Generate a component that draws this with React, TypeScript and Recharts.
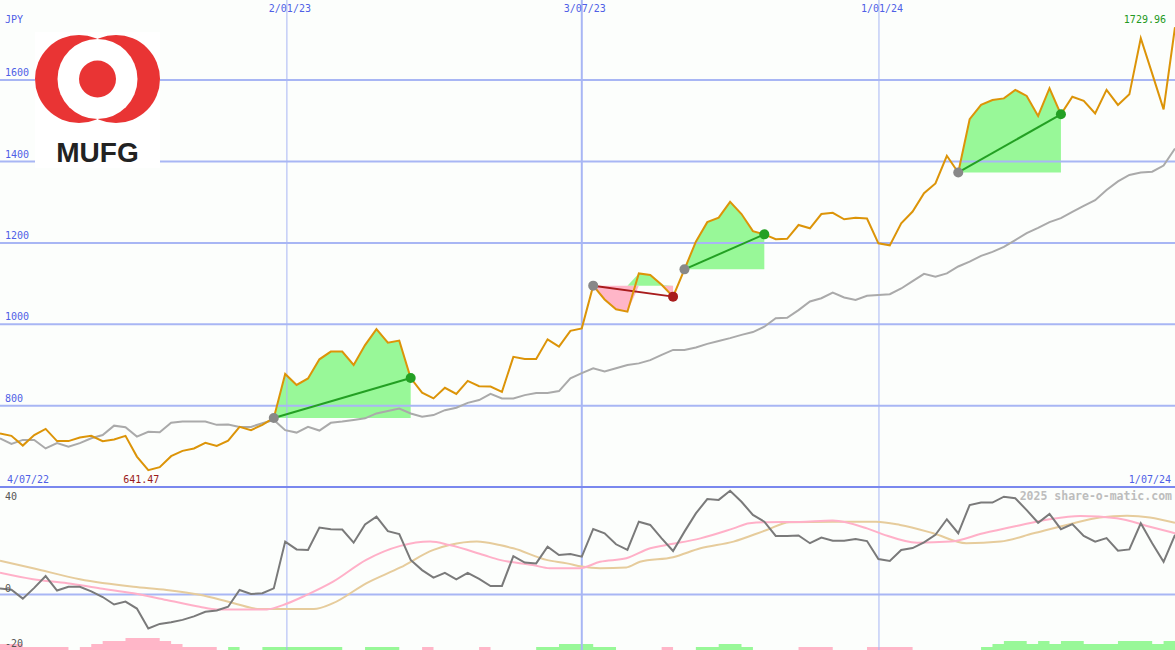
import React from 'react';
import { ComposedChart, Line, Area, XAxis, YAxis, ReferenceLine, ReferenceDot } from 'recharts';

// weekly closes, JPY (week 0 = first point on the left edge)
const prices = [
  732, 726, 702, 728, 743, 713, 713, 722, 726, 713,
  717, 726, 675, 641.47, 649, 676, 689, 695, 709, 701,
  714, 748, 740, 753, 770, 878, 851, 867, 914, 933,
  933, 900, 949, 988, 955, 960, 868, 832, 818, 844,
  829, 861, 848, 847, 834, 920, 915, 915, 963, 945,
  984, 990, 1095, 1061, 1037, 1031, 1125, 1121, 1097, 1068,
  1135, 1203, 1251, 1262, 1301, 1271, 1229, 1221, 1209, 1210,
  1244, 1236, 1271, 1274, 1258, 1262, 1260, 1199, 1194, 1248,
  1277, 1322, 1346, 1414, 1373, 1504, 1539, 1551, 1555, 1576,
  1561, 1512, 1580, 1516, 1559, 1549, 1518, 1576, 1539, 1565,
  1703, 1616, 1528, 1729.96,
];

// grey moving average
const averages = [
  720, 706, 716, 716, 695, 708, 699, 708, 720, 728,
  751, 747, 724, 736, 735, 758, 761, 761, 761, 753,
  754, 748, 748, 757, 765, 740, 734, 748, 739, 758,
  761, 765, 769, 781, 787, 793, 781, 773, 777, 789,
  795, 807, 814, 829, 818, 818, 826, 831, 831, 836,
  867, 880, 892, 884, 892, 900, 904, 912, 925, 937,
  937, 943, 952, 959, 966, 974, 981, 994, 1015, 1016,
  1035, 1056, 1064, 1078, 1066, 1060, 1070, 1072, 1074, 1088,
  1106, 1124, 1117, 1125, 1142, 1154, 1168, 1178, 1190, 1207,
  1224, 1237, 1251, 1261, 1276, 1291, 1305, 1330, 1351, 1367,
  1373, 1375, 1390, 1432,
];

// lower panel oscillator (dark grey)
const oscillator = [
  2.3, 1.8, -1.5, 2.5, 6.9, 1.5, 2.9, 2.9, 1.2, -0.9,
  -3.7, -2.6, -5.2, -12.6, -10.9, -10.3, -9.4, -8.1, -6.4, -5.9,
  -4.5, 1.7, 0.2, 0.5, 2.3, 19.7, 16.8, 16.6, 24.9, 24.3,
  24.2, 19.3, 26.1, 29, 23.6, 22.5, 12.9, 9.1, 6.3, 8.1,
  5.7, 8.1, 5.8, 3.2, 3.2, 14.3, 11.9, 11.6, 17.8, 14.7,
  15.1, 14.1, 24.4, 22.8, 18.7, 16.6, 27.1, 25.9, 20.9, 16.2,
  23.4, 30.2, 35.5, 35.2, 38.6, 34.5, 29.6, 27.1, 21.8, 21.8,
  22, 19.1, 21.2, 20, 20, 20.7, 19.9, 13.2, 12.5, 16.6,
  17.3, 19.4, 22.2, 28, 22.8, 33.3, 34.2, 34.2, 36.4, 35.8,
  31.4, 26.7, 30, 24.3, 26.2, 21.8, 19.7, 21, 16.3, 16.8,
  26.5, 19.1, 12.2, 22.2,
];

// histogram blocks at the foot (each covers the week ending at its index)
const histogram = [
  -2, -2, -2, -1, -1, -1, -1, 0, -1, -2,
  -3, -3, -4, -4, -4, -3, -2, -1, -1, -1,
  0, 1, 0, 0, 1, 1, 1, 1, 1, 1,
  1, 0, 0, 1, 1, 1, 0, 0, -1, 0,
  0, 0, 0, -1, 0, 0, 0, 0, 1, 1,
  2, 2, 2, 1, 1, 0, 0, 0, 0, -1,
  0, 0, 1, 1, 2, 2, 1, 0, 0, 0,
  0, -1, -1, -1, 0, 0, 0, -1, -1, -1,
  -1, 0, 0, 0, 0, 0, 0, 1, 2, 3,
  3, 2, 3, 2, 3, 3, 2, 2, 2, 3,
  3, 3, 2, 3,
];

// pink signal curve
const signalWeeks = [0, 2.9, 5.9, 8.8, 11.7, 14.6, 17.5, 19, 23.4, 24.8, 26.9, 29.2, 32.1, 35.1, 37.7, 39.4, 42.4, 43.8, 46.7, 48.2, 50.8, 52.6, 54.9, 57, 58.4, 61.4, 64.3, 65.7, 67.2, 70.1, 73, 76, 77.4, 80.4, 83.3, 86.2, 89.1, 92, 94.7, 97.9, 100.8, 103];
const signalValues = [8.1, 5.7, 4.2, 2.3, 0.5, -2, -4.5, -5.5, -5.5, -3.9, -0.1, 4.8, 12.9, 18.1, 19.7, 18.4, 14.7, 12.9, 11, 9.8, 9.8, 12.2, 13.5, 17.2, 18.4, 20.9, 24.6, 26.5, 26.9, 27, 27.5, 24.6, 22.4, 19.3, 19.7, 22.8, 25.5, 28, 29.2, 28.4, 25.2, 22.8];

// tan slow curve
const slowWeeks = [0, 2.9, 7, 11.7, 14.6, 17.5, 20.5, 22.8, 27.5, 29.2, 32.1, 35.1, 38, 39.4, 41.8, 43.8, 45, 47.9, 49.7, 51, 52.6, 54.9, 56.1, 59, 61.4, 64.3, 67.2, 69.2, 73, 76.8, 78.9, 81.8, 84.7, 87.7, 90.6, 93.5, 96.4, 98.8, 100.8, 103];
const slowValues = [12.6, 9.8, 5.7, 2.9, 1.7, -0.1, -3.2, -5.4, -5.4, -3.2, 4.2, 10.1, 16.6, 18.4, 19.7, 18.4, 17.2, 12.9, 11.6, 10.4, 9.8, 10.1, 12.2, 13.9, 17.2, 19.7, 24, 26.9, 27.1, 27.1, 25.9, 22.8, 19.1, 19.7, 22.8, 25.9, 28.7, 29.3, 28.7, 26.7];

const priceTicks = [800, 1000, 1200, 1400, 1600];
const oscTicks = [40, 0, -20];
const dateTicks = [0, 25.15, 51.0, 77.05, 103];
const dateLabels = ['4/07/22', '2/01/23', '3/07/23', '1/01/24', '1/07/24'];

// entry / exit weeks of the marked trades
const trades = [
  { entry: 24, exit: 36 },
  { entry: 52, exit: 59 },
  { entry: 60, exit: 67 },
  { entry: 84, exit: 93 },
];

const FONT = 'DejaVu Sans Mono, monospace';
const BLUE_TEXT = '#4f5fe6';
const GRID = '#a8b6f4';
const GAIN = '#98f898';
const LOSS = '#ffb6c8';

const rows = prices.map((price, week) => {
  const row: Record<string, any> = {
    week,
    price,
    avg: averages[week],
    osc: oscillator[week],
    histUp: Math.max(histogram[week], 0),
    histDown: Math.max(-histogram[week], 0),
  };
  trades.forEach((t, k) => {
    const base = prices[t.entry];
    const inside = week >= t.entry && week <= t.exit;
    row[`gain${k}`] = inside ? [base, Math.max(price, base)] : null;
    row[`loss${k}`] = inside ? [Math.min(price, base), base] : null;
  });
  return row;
});

const signalPoints = signalWeeks.map((week, i) => ({ week, v: signalValues[i] }));
const slowPoints = slowWeeks.map((week, i) => ({ week, v: slowValues[i] }));

const lowIdx = prices.indexOf(Math.min(...prices));
const highIdx = prices.indexOf(Math.max(...prices));

const txt = (x: number, y: number, s: string | number, fill: string, anchor = 'start') => (
  <text x={x} y={y} textAnchor={anchor} fill={fill} fontSize={10} fontFamily={FONT}>
    {s}
  </text>
);

const oscOffset = (v: number) => (v === 40 ? 13 : v === 0 ? -3 : -1);

const Overlay = () => (
  <svg width={1175} height={650} style={{ position: 'absolute', left: 0, top: 0, pointerEvents: 'none' }}>
    <rect x={35} y={32} width={125} height={136} fill="#ffffff" />
    <circle cx={79} cy={79} r={44} fill="#e93434" />
    <circle cx={116} cy={79} r={44} fill="#e93434" />
    <circle cx={97.5} cy={79} r={40} fill="#ffffff" />
    <circle cx={97.5} cy={79} r={18.5} fill="#e93434" />
    <text x={97.5} y={162} textAnchor="middle" fontFamily="Liberation Sans, Arial, sans-serif" fontWeight="bold" fontSize={28} fill="#222">
      MUFG
    </text>
    <text x={5} y={23} fill={BLUE_TEXT} fontSize={10} fontFamily={FONT}>JPY</text>
    <text x={1172} y={500} textAnchor="end" fill="#bdbdbd" fontSize={11.5} fontWeight="bold" fontFamily={FONT}>
      2025 share-o-matic.com
    </text>
  </svg>
);

export default function App() {
  return (
    <div style={{ position: 'absolute', left: 0, top: 0, width: 1175, height: 650, background: '#fcfefc', overflow: 'hidden' }}>
      <ComposedChart width={1175} height={650} data={rows} margin={{ top: 0, right: 0, bottom: 0, left: 0 }}>
        <XAxis type="number" dataKey="week" domain={[0, 103]} hide allowDataOverflow />
        <YAxis yAxisId="price" type="number" domain={[199.8, 1796.8]} hide allowDataOverflow />
        <YAxis yAxisId="osc" type="number" domain={[-20.6, 221.04]} hide allowDataOverflow />
        <YAxis yAxisId="hist" type="number" domain={[0, 216.67]} hide allowDataOverflow />

        {dateTicks.slice(1, -1).map((w, i) => (
          <ReferenceLine
            key={`v${w}`}
            x={w}
            yAxisId="price"
            stroke={GRID}
            strokeWidth={dateLabels[i + 1].includes('/07/') ? 2 : 1}
            label={(p: any) => txt(p.viewBox.x + 3, 12, dateLabels[i + 1], BLUE_TEXT, 'middle')}
          />
        ))}
        {priceTicks.map((v) => (
          <ReferenceLine
            key={`h${v}`}
            y={v}
            yAxisId="price"
            stroke={GRID}
            strokeWidth={2}
            label={(p: any) => txt(5, p.viewBox.y - 4, v, BLUE_TEXT)}
          />
        ))}
        <ReferenceLine y={0} yAxisId="osc" stroke={GRID} strokeWidth={2} />
        <ReferenceLine y={40} yAxisId="osc" stroke="#7a88ee" strokeWidth={2} />

        <Area yAxisId="hist" type="stepBefore" dataKey="histDown" fill={LOSS} fillOpacity={1} stroke="none" dot={false} activeDot={false} isAnimationActive={false} />
        <Area yAxisId="hist" type="stepBefore" dataKey="histUp" fill={GAIN} fillOpacity={1} stroke="none" dot={false} activeDot={false} isAnimationActive={false} />

        {trades.map((t, k) => (
          <Area key={`g${k}`} yAxisId="price" type="linear" dataKey={`gain${k}`} fill={GAIN} fillOpacity={1} stroke="none" dot={false} activeDot={false} isAnimationActive={false} />
        ))}
        {trades.map((t, k) => (
          <Area key={`l${k}`} yAxisId="price" type="linear" dataKey={`loss${k}`} fill={LOSS} fillOpacity={1} stroke="none" dot={false} activeDot={false} isAnimationActive={false} />
        ))}

        <Line data={slowPoints} yAxisId="osc" type="monotone" dataKey="v" stroke="#e6cc9c" strokeWidth={2} dot={false} activeDot={false} isAnimationActive={false} />
        <Line data={signalPoints} yAxisId="osc" type="monotone" dataKey="v" stroke="#ffb0c8" strokeWidth={2} dot={false} activeDot={false} isAnimationActive={false} />
        <Line yAxisId="osc" type="linear" dataKey="osc" stroke="#7a7a7a" strokeWidth={2} dot={false} activeDot={false} isAnimationActive={false} />

        <Line yAxisId="price" type="linear" dataKey="avg" stroke="#aaaaaa" strokeWidth={2} dot={false} activeDot={false} isAnimationActive={false} />

        {trades.map((t, k) => {
          const win = prices[t.exit] >= prices[t.entry];
          return (
            <ReferenceLine
              key={`t${k}`}
              yAxisId="price"
              segment={[{ x: t.entry, y: prices[t.entry] }, { x: t.exit, y: prices[t.exit] }]}
              stroke={win ? '#23a023' : '#a81c1c'}
              strokeWidth={2}
            />
          );
        })}
        {trades.map((t, k) => (
          <ReferenceDot key={`e${k}`} yAxisId="price" x={t.entry} y={prices[t.entry]} r={5} fill="#888888" stroke="none" />
        ))}

        <Line yAxisId="price" type="linear" dataKey="price" stroke="#dc9408" strokeWidth={2} dot={false} activeDot={false} isAnimationActive={false} />

        {trades.map((t, k) => {
          const win = prices[t.exit] >= prices[t.entry];
          return (
            <ReferenceDot key={`x${k}`} yAxisId="price" x={t.exit} y={prices[t.exit]} r={5} fill={win ? '#23a023' : '#a81c1c'} stroke="none" />
          );
        })}

        {/* lower panel scale labels */}
        {oscTicks.map((v) => (
          <ReferenceDot
            key={`o${v}`}
            yAxisId="osc"
            x={0}
            y={v}
            r={1}
            fill="none"
            stroke="none"
            label={(p: any) => txt(5, p.viewBox.y + 1 + oscOffset(v), v, '#555555')}
          />
        ))}

        {/* first / last date at the foot of the price panel */}
        <ReferenceDot
          yAxisId="osc"
          x={dateTicks[0]}
          y={40}
          r={1}
          fill="none"
          stroke="none"
          label={(p: any) => txt(p.viewBox.x + 8, p.viewBox.y - 3, dateLabels[0], BLUE_TEXT)}
        />
        <ReferenceDot
          yAxisId="osc"
          x={dateTicks[dateTicks.length - 1]}
          y={40}
          r={1}
          fill="none"
          stroke="none"
          label={(p: any) => txt(p.viewBox.x - 3, p.viewBox.y - 3, dateLabels[dateLabels.length - 1], BLUE_TEXT, 'end')}
        />

        <ReferenceDot
          yAxisId="price"
          x={lowIdx}
          y={prices[lowIdx]}
          r={1}
          fill="none"
          stroke="none"
          label={(p: any) => txt(p.viewBox.x - 6, p.viewBox.y + 14, prices[lowIdx].toFixed(2), '#9a1a1a', 'middle')}
        />
        <ReferenceDot
          yAxisId="price"
          x={highIdx}
          y={prices[highIdx]}
          r={1}
          fill="none"
          stroke="none"
          label={(p: any) => txt(p.viewBox.x - 8, p.viewBox.y - 3, prices[highIdx].toFixed(2), '#229922', 'end')}
        />
      </ComposedChart>
      <Overlay />
    </div>
  );
}
